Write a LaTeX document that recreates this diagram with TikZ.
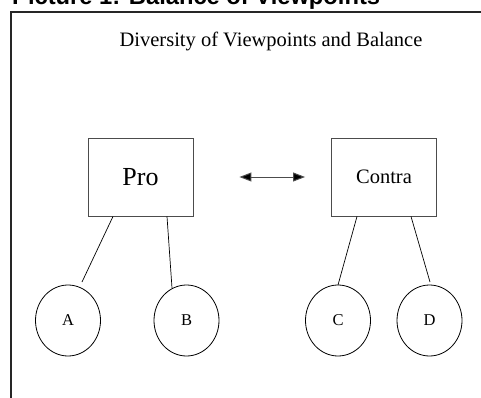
\documentclass[tikz,border=0pt]{standalone}
\usepackage{fontspec}
\setmainfont{Liberation Serif}
\newfontfamily\headfont{Liberation Sans}
\usetikzlibrary{shapes.geometric,arrows.meta,calc}
\begin{document}
\begin{tikzpicture}[x=1pt,y=-1pt,
  box/.style={draw=black!70, line width=0.9pt, minimum width=105pt, minimum height=78pt, inner sep=0pt},
  leaf/.style={draw, ellipse, line width=0.8pt, minimum width=65pt, minimum height=71pt, inner sep=0pt, font=\fontsize{16.5}{18}\selectfont},
  link/.style={line width=0.7pt},
  frameline/.style={line width=1.5pt, draw=black!85},
  both/.style={line width=1pt, draw=black!70, {Triangle[length=12pt,width=9pt,fill=black]}-{Triangle[length=12pt,width=9pt,fill=black]}}]
\useasboundingbox (0,0) rectangle (481,398);
\clip (0,0) rectangle (481,398);
\node[anchor=base west, inner sep=0pt, font=\headfont\bfseries\fontsize{23.7}{26}\selectfont] (head) at (12,4.5) {Picture 1: Balance of Viewpoints};
\coordinate (ftl) at (11,12);
\coordinate (ftr) at (481,12);
\coordinate (fbl) at (11,398);
\draw[frameline] (ftr) -- (ftl) -- (fbl);
\node[inner sep=0pt, font=\fontsize{20.5}{23}\selectfont] (title) at (271,41) {Diversity of Viewpoints and Balance};
\node[box, font=\fontsize{26}{29}\selectfont] (pro) at (140.5,177) {Pro};
\node[box, font=\fontsize{20.5}{23}\selectfont] (contra) at (384,177) {Contra};
\draw[both, shorten <=46pt, shorten >=26pt] (pro) -- (contra);
\node[leaf] (A) at (68,320.5) {A};
\node[leaf] (B) at (186.5,320.5) {B};
\node[leaf] (C) at (338,320.5) {C};
\node[leaf] (D) at (429.5,320.5) {D};
\draw[link] ($(pro.south)+(-27.5,0)$) -- ($(A.center)+(14,-38.5)$);
\draw[link] ($(pro.south)+(26.5,0)$) -- ($(B.center)+(-14.5,-32.5)$);
\draw[link] ($(contra.south)+(-27,0)$) -- ($(C.center)+(0,-35.5)$);
\draw[link] ($(contra.south)+(27,0)$) -- ($(D.center)+(0.5,-38.5)$);
\end{tikzpicture}
\end{document}
